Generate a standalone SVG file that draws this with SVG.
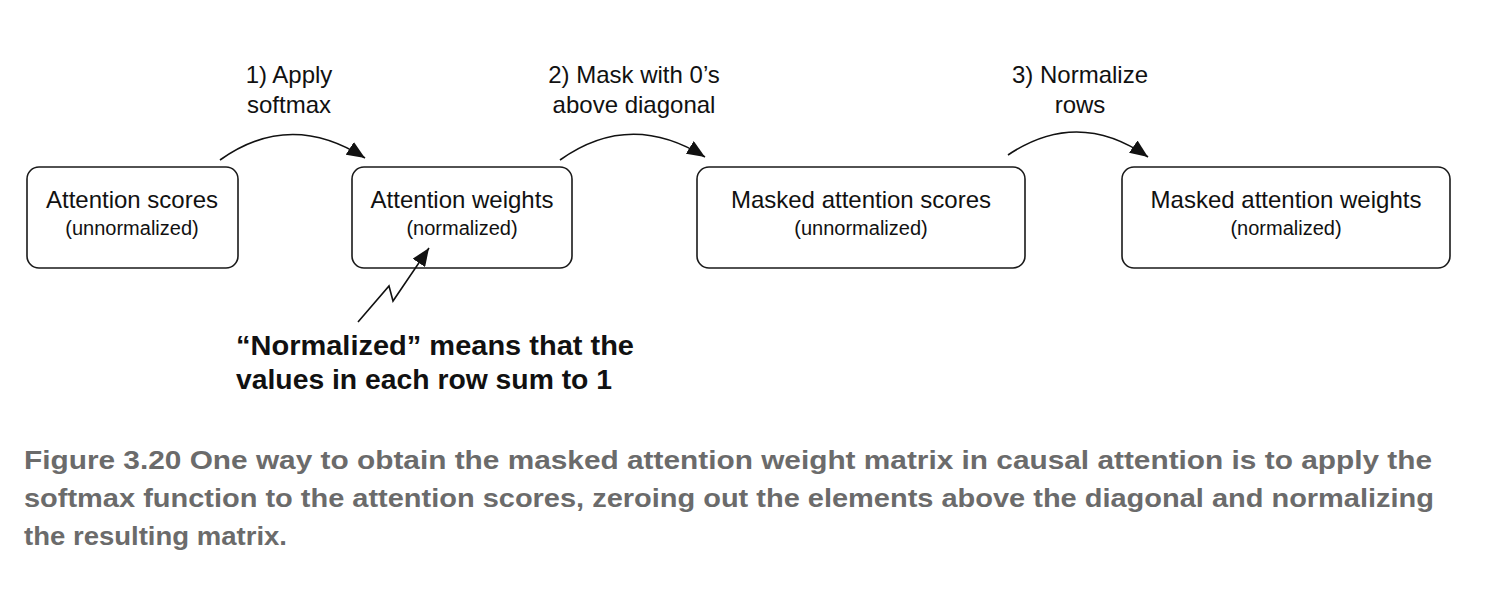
<svg xmlns="http://www.w3.org/2000/svg" width="1510" height="608" viewBox="0 0 1510 608">
<style>
.box{fill:#fff;stroke:#1a1a1a;stroke-width:1.6}
.t{font-family:"Liberation Sans",Arial,sans-serif;font-size:24px;fill:#111;text-anchor:middle}
.s{font-family:"Liberation Sans",Arial,sans-serif;font-size:20px;fill:#111;text-anchor:middle}
.c{fill:none;stroke:#111;stroke-width:1.6}
.n{font-family:"Liberation Sans",Arial,sans-serif;font-size:28px;font-weight:bold;fill:#111}
.cap{font-family:"Liberation Sans",Arial,sans-serif;font-size:25px;font-weight:bold;fill:#6b6b6b}
</style>
<defs><marker id="a" markerWidth="10" markerHeight="10" refX="9" refY="5" orient="auto" markerUnits="userSpaceOnUse"><path d="M0,0 L10,5 L0,10 L2,5 Z" fill="#111" transform="scale(1.8) translate(-4.5,-2.2)"/></marker>
<marker id="b" viewBox="0 0 12 10" markerWidth="18" markerHeight="15" refX="12" refY="5" orient="auto" markerUnits="userSpaceOnUse"><path d="M0,0 L12,5 L0,10 Z" fill="#111"/></marker></defs>
<rect width="1510" height="608" fill="#fff"/>
<g id="n1"><rect class="box" x="27" y="167" width="211" height="101" rx="12"/><text class="t" x="132" y="208">Attention scores</text><text class="s" x="132" y="235">(unnormalized)</text></g>
<g id="n2"><rect class="box" x="352" y="167" width="220" height="101" rx="12"/><text class="t" x="462" y="208">Attention weights</text><text class="s" x="462" y="235">(normalized)</text></g>
<g id="n3"><rect class="box" x="697" y="167" width="328" height="101" rx="12"/><text class="t" x="861" y="208">Masked attention scores</text><text class="s" x="861" y="235">(unnormalized)</text></g>
<g id="n4"><rect class="box" x="1122" y="167" width="328" height="101" rx="12"/><text class="t" x="1286" y="208">Masked attention weights</text><text class="s" x="1286" y="235">(normalized)</text></g>
<g id="connectors">
<path class="c" d="M220,160 Q290,110 365,158" marker-end="url(#b)"/>
<path class="c" d="M560,160 Q630,110 705,157" marker-end="url(#b)"/>
<path class="c" d="M1008,155 Q1078,108 1148,157" marker-end="url(#b)"/>
<path class="c" d="M358,322 L389,286 L393,301 L429,248" marker-end="url(#b)"/>
</g>
<g id="labels">
<text class="t" x="289" y="83">1) Apply</text><text class="t" x="289" y="113">softmax</text>
<text class="t" x="634" y="83">2) Mask with 0’s</text><text class="t" x="634" y="113">above diagonal</text>
<text class="t" x="1080" y="83">3) Normalize</text><text class="t" x="1080" y="113">rows</text>
<text class="n" x="236" y="355" textLength="398" lengthAdjust="spacingAndGlyphs">“Normalized” means that the</text>
<text class="n" x="236" y="389" textLength="376" lengthAdjust="spacingAndGlyphs">values in each row sum to 1</text>
</g>
<g id="caption">
<text class="cap" x="24" y="469" textLength="1408" lengthAdjust="spacingAndGlyphs">Figure 3.20    One way to obtain the masked attention weight matrix in causal attention is to apply the</text>
<text class="cap" x="24" y="507" textLength="1410" lengthAdjust="spacingAndGlyphs">softmax function to the attention scores, zeroing out the elements above the diagonal and normalizing</text>
<text class="cap" x="24" y="545" textLength="263" lengthAdjust="spacingAndGlyphs">the resulting matrix.</text>
</g>
</svg>
